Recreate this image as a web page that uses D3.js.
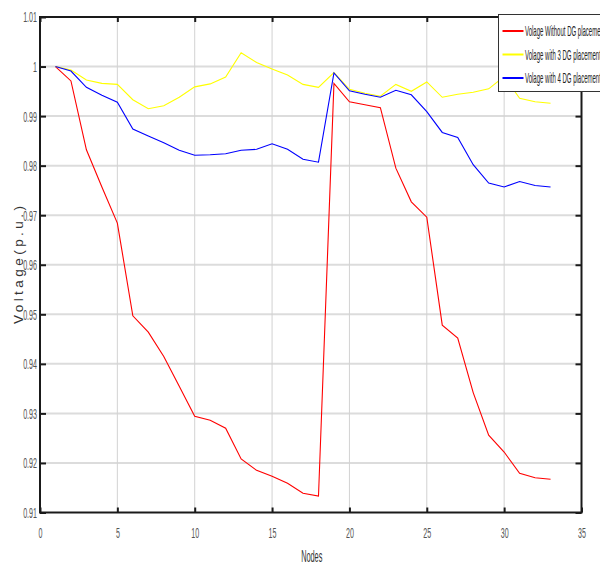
<!DOCTYPE html>
<html>
<head>
<meta charset="utf-8">
<script src="https://cdn.jsdelivr.net/npm/d3@7"></script>
<style>
body { margin: 0; background: #fff; }
svg { display: block; font-family: "Liberation Sans", Arial, sans-serif; }
</style>
</head>
<body>
<div id="chart"></div>
<script>
// bus voltage profile, 33 nodes
var nodes = d3.range(1, 34);

var withoutDG = [1.0000, 0.9971, 0.9832, 0.9757, 0.9684, 0.9497, 0.9464, 0.9415, 0.9355, 0.9294,
    0.9286, 0.9270, 0.9208, 0.9185, 0.9173, 0.9159, 0.9139, 0.9133, 0.9966, 0.9929,
    0.9923, 0.9917, 0.9795, 0.9727, 0.9696, 0.9478, 0.9452, 0.9342, 0.9256, 0.9222,
    0.9179, 0.9170, 0.9167];

var with3DG = [1.0000, 0.9993, 0.9973, 0.9966, 0.9964, 0.9933, 0.9915, 0.9921, 0.9938, 0.9959,
    0.9965, 0.9979, 1.0028, 1.0008, 0.9995, 0.9983, 0.9964, 0.9958, 0.9988, 0.9954,
    0.9946, 0.9940, 0.9964, 0.9950, 0.9969, 0.9938, 0.9944, 0.9948, 0.9955, 0.9980,
    0.9936, 0.9929, 0.9926];

var with4DG = [1.0000, 0.9991, 0.9958, 0.9942, 0.9928, 0.9874, 0.9860, 0.9846, 0.9831, 0.9821,
    0.9822, 0.9824, 0.9831, 0.9833, 0.9844, 0.9833, 0.9813, 0.9807, 0.9987, 0.9951,
    0.9944, 0.9938, 0.9952, 0.9943, 0.9909, 0.9867, 0.9857, 0.9802, 0.9765, 0.9757,
    0.9768, 0.9760, 0.9757];

var seriesNames = ["Volage Without DG placement", "Volage with 3 DG placement", "Volage with 4 DG placement"];
var seriesColors = ["#ff0000", "#ffff00", "#0000ff"];

var xTicks = [0, 5, 10, 15, 20, 25, 30, 35];
var yTicks = [0.91, 0.92, 0.93, 0.94, 0.95, 0.96, 0.97, 0.98, 0.99, 1.00, 1.01];
var yTickLabels = ["0.91", "0.92", "0.93", "0.94", "0.95", "0.96", "0.97", "0.98", "0.99", "1", "1.01"];

var margin = { top: 17, right: 18.5, bottom: 55.5, left: 40 },
    W = 600, H = 568,
    width = W - margin.left - margin.right,
    height = H - margin.top - margin.bottom;

// the original text is squeezed to under half width
var squeeze = 0.46;

var svg = d3.select("#chart").append("svg")
    .attr("width", W)
    .attr("height", H);

var g = svg.append("g")
    .attr("transform", "translate(" + margin.left + "," + margin.top + ")");

var x = d3.scaleLinear().domain([0, 35]).range([0, width]);
var y = d3.scaleLinear().domain([0.91, 1.01]).range([height, 0]);

// grid
g.selectAll("line.hgrid")
    .data(yTicks.slice(1, -1))
    .enter().append("line")
    .attr("class", "hgrid")
    .attr("x1", 0).attr("x2", width)
    .attr("y1", d => y(d)).attr("y2", d => y(d))
    .style("stroke", "#dcdcdc")
    .style("stroke-width", 2);

g.selectAll("line.vgrid")
    .data(xTicks.slice(1, -1))
    .enter().append("line")
    .attr("class", "vgrid")
    .attr("x1", d => x(d)).attr("x2", d => x(d))
    .attr("y1", 0).attr("y2", height)
    .style("stroke", "#d2d2d2")
    .style("stroke-width", 1);

// series
var series = [withoutDG, with3DG, with4DG];
var line = d3.line()
    .x((d, i) => x(nodes[i]))
    .y(d => y(d));

g.selectAll("path.series")
    .data(series)
    .enter().append("path")
    .attr("class", "series")
    .attr("d", line)
    .style("fill", "none")
    .style("stroke", (d, i) => seriesColors[i])
    .style("stroke-width", 1.1);

// axes (inner ticks on all four sides)
var axisColor = "#1a1a1a";
function styleAxis(sel) {
    sel.select(".domain").remove();
    sel.selectAll(".tick line").style("stroke", axisColor).style("stroke-width", 2);
    sel.selectAll(".tick text")
        .attr("x", function() { return +d3.select(this).attr("x") / squeeze; })
        .attr("transform", "scale(" + squeeze + ",1)")
        .style("fill", "#555")
        .style("font-size", "15.5px");
}

g.append("g")
    .attr("transform", "translate(0," + height + ")")
    .call(d3.axisBottom(x).tickValues(xTicks).tickSize(-5).tickPadding(15))
    .call(styleAxis);

g.append("g")
    .call(d3.axisTop(x).tickValues(xTicks).tickSize(-5).tickFormat(""))
    .call(styleAxis);

g.append("g")
    .call(d3.axisLeft(y).tickValues(yTicks).tickSize(-6).tickPadding(3)
        .tickFormat((d, i) => yTickLabels[i]))
    .call(styleAxis);

g.append("g")
    .attr("transform", "translate(" + width + ",0)")
    .call(d3.axisRight(y).tickValues(yTicks).tickSize(-6).tickFormat(""))
    .call(styleAxis);

g.append("rect")
    .attr("width", width).attr("height", height)
    .style("fill", "none")
    .style("stroke", axisColor)
    .style("stroke-width", 2);

// axis titles
svg.append("g")
    .attr("transform", "translate(" + (margin.left + width / 2 + 1) + "," + (H - 6) + ")")
    .append("text")
    .attr("transform", "scale(" + squeeze + ",1)")
    .attr("text-anchor", "middle")
    .style("font-size", "16px")
    .style("fill", "#333")
    .text("Nodes");

svg.append("text")
    .attr("transform", "translate(23," + (margin.top + 248) + ") rotate(-90)")
    .attr("text-anchor", "middle")
    .attr("textLength", 118)
    .attr("lengthAdjust", "spacing")
    .style("font-size", "13.5px")
    .style("fill", "#333")
    .text("Voltage(p.u.)");

// legend
var legend = svg.append("g").attr("transform", "translate(498.5,14.5)");
legend.append("rect")
    .attr("width", 200).attr("height", 77)
    .style("fill", "#fff")
    .style("stroke", "#333")
    .style("stroke-width", 1);

var item = legend.selectAll("g.item")
    .data(seriesNames)
    .enter().append("g")
    .attr("class", "item")
    .attr("transform", (d, i) => "translate(0," + (16.5 + i * 23.5) + ")");

item.append("line")
    .attr("x1", 4).attr("x2", 25)
    .style("stroke", (d, i) => seriesColors[i])
    .style("stroke-width", 2);

item.append("text")
    .attr("transform", "translate(26.5,0) scale(0.43,1)")
    .attr("dy", "0.36em")
    .style("font-size", "14px")
    .style("fill", "#222")
    .text(d => d);
</script>
</body>
</html>
